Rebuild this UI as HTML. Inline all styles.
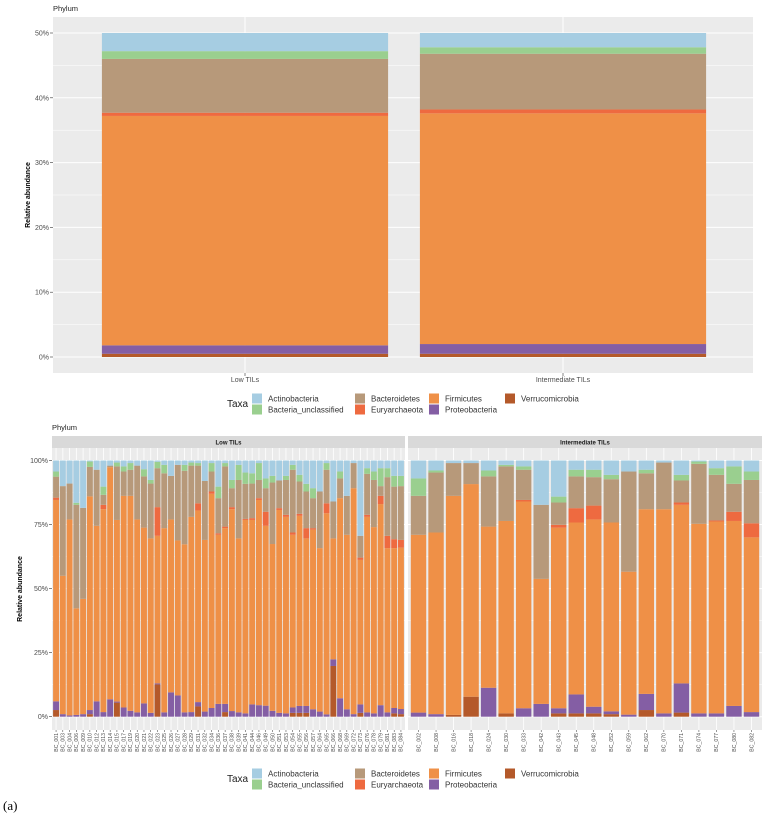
<!DOCTYPE html>
<html><head><meta charset="utf-8"><style>
body{margin:0;background:#fff}
svg text{font-family:"Liberation Sans",sans-serif}
</style></head><body>
<svg id="fig" width="770" height="819" viewBox="0 0 770 819" xmlns="http://www.w3.org/2000/svg">
<g id="top"></g>
<g id="bot"></g>
<text x="3" y="810" font-family="Liberation Serif, serif" font-size="13" style="font-family:'Liberation Serif',serif">(a)</text>
</svg>
<script>
const taxa = ["Verrucomicrobia","Proteobacteria","Firmicutes","Euryarchaeota","Bacteroidetes","Bacteria_unclassified","Actinobacteria"];
const colors = ["#b4592a","#845ea4","#ef9047","#ee6a40","#b7997a","#9acf8f","#a6cde2"];
// top chart cumulative tops (percent) per taxon for each group
const groups = ["Low TILs","Intermediate TILs"];
const groupTops = [[0.5,1.8,37.2,37.7,46,47.2,50],[0.5,2.0,37.6,38.2,46.8,47.8,50]];
const topTicks = [0,10,20,30,40,50];

const lowIds = ["001","003","004","006","009","010","012","013","014","015","017","019","020","021","022","023","025","026","027","028","029","031","032","034","036","037","038","039","041","044","046","049","050","051","053","054","055","056","057","064","065","066","068","069","072","073","076","078","079","081","083","084"];
const lowVerr = [2.6,0,0,0,0,1,0,0,0,5.5,0,0,0,0,0,12.6,0,0,0,0,0,4,0,0,0,1.8,0,0,0,0,0,0,0,0,0,1.5,1.5,1.5,0,0,0,19.8,0,0,0,1.5,0,0,0,0,1.3,1];
const lowProt = [6,1,0.5,0.7,1,2.6,6,1.8,6.8,5.9,3.6,2.3,1.7,5.2,1.5,13,1.7,9.5,8.3,1.7,1.8,5.7,2,3.4,5,5,2.2,1.7,1.3,4.8,4.5,4.3,2.3,1.5,1.3,3.6,4.2,4.2,2.9,2,0.9,22.4,7.2,2.9,1,4.8,1.7,1.3,4.5,1.7,3.4,3];
const lowFirm = [84.6,55,77,42.3,46,86,74.5,81,97.4,76.8,86.2,86.2,77,73.8,69.6,70.6,73.6,77,68.8,67.3,78,80.5,69,87,71,73.6,81,69.6,76.8,76.8,84.6,74.5,67.4,80.7,78,71,78.4,69.6,73,65.8,79.4,69.6,85.3,71,89.2,61.2,78,74,83,65.8,65.8,66];
const lowEury = [85.5,55,77,42.3,46,86,74.5,82.7,97.4,76.8,86.2,86.2,77,73.8,69.6,81.8,73.6,77,68.8,67.3,78,83.3,69,87.9,71.6,74.2,81.8,69.6,77.2,77.5,85.3,80,67.4,81.4,78.8,71.9,79.2,73.6,73.6,65.8,83.3,69.6,85.3,71,89.2,62.1,78.8,74,86.2,70.6,69.3,69];
const lowBact = [93.7,90,91,82.7,81.5,97.5,96.4,86.6,98,97.7,95.7,96.4,98,93.8,91,97,95,94,98.3,96,98,98,92,95.7,85.3,97.7,89.2,92.4,90.9,91,92.4,89.2,91.4,92.2,92.4,96.4,91.8,87.9,85.3,87.9,96.4,84,93,86.2,99,70.6,94.8,92.4,90,93.5,89.8,90];
const lowUncl = [95.7,90,91,83.5,81.5,99.6,96.4,89.8,98,99.2,97.7,99,98,96.6,92.4,99.5,98.3,94,98.3,98.3,99.2,99,92,99,89.8,99,92.4,98.3,95.3,95,99,93,94,92.2,94,98.3,94.4,90.9,89.2,87.9,99,84,95.7,86.2,99,70.6,97,95.7,97,97,94,94];

const intIds = ["002","008","016","018","024","030","033","042","043","045","048","052","059","062","070","071","074","077","080","082"];
const intVerr = [0,0,0.7,7.8,0,1.3,0,0,1.3,1.3,1.3,1,0,2.6,0,1.6,0,0,0,0];
const intProt = [1.6,1,0.7,7.8,11.3,1.3,3.3,5,3.3,8.7,3.9,2.1,0.8,8.9,1.3,13,1.3,1.3,4.2,1.8];
const intFirm = [71,71.9,86.2,90.8,74.2,76.4,84,53.8,73.8,75.8,77,75.8,56.6,81,81,82.7,75.3,76.2,76.4,70];
const intEury = [71,71.9,86.2,90.8,74.2,76.4,84.6,53.8,74.9,81.4,82.4,75.8,56.6,81,81,83.6,75.3,76.6,80,75.5];
const intBact = [86.2,95.3,99,99,93.8,97.7,96.4,82.7,83.6,93.8,93.5,92.7,95.7,95,99.2,92.2,98.7,94.4,90.9,92.4];
const intUncl = [93,96.1,99,99,96.1,98.3,97.7,82.7,85.9,96.4,96.4,94.4,95.7,96.4,99.2,94.4,99.6,97,97.7,95.7];
const botTicks = [0,25,50,75,100];

const NS="http://www.w3.org/2000/svg";
function mk(parent,tag,attrs,txt){const e=document.createElementNS(NS,tag);for(const k in attrs)e.setAttribute(k,attrs[k]);if(txt!==undefined)e.textContent=txt;parent.appendChild(e);return e;}

// ---------- TOP CHART ----------
const T=document.getElementById('top');
const tp={x0:53,x1:753,y0:17,y1:373};
const yT=v=>357-v*6.48;
const bandT=318, xT=i=>245+i*bandT;
let e=mk(T,'rect',{x:tp.x0,y:tp.y0,width:tp.x1-tp.x0,height:tp.y1-tp.y0,fill:'#ebebeb'});

for(let v=5;v<=55;v+=10){const y=yT(v);if(y>tp.y0)mk(T,'line',{x1:tp.x0,x2:tp.x1,y1:y,y2:y,stroke:'#fff','stroke-width':0.5});}
topTicks.forEach(v=>{const y=yT(v);mk(T,'line',{x1:tp.x0,x2:tp.x1,y1:y,y2:y,stroke:'#fff','stroke-width':1});
 mk(T,'line',{x1:tp.x0-3,x2:tp.x0,y1:y,y2:y,stroke:'#333','stroke-width':0.6});
 e=mk(T,'text',{x:tp.x0-4,y:y+2.5,'font-size':7,'text-anchor':'end',fill:'#4d4d4d'},v+'%');
 });
groups.forEach((g,i)=>{const cx=xT(i);mk(T,'line',{x1:cx,x2:cx,y1:tp.y0,y2:tp.y1,stroke:'#fff','stroke-width':1});
 mk(T,'line',{x1:cx,x2:cx,y1:tp.y1,y2:tp.y1+3,stroke:'#333','stroke-width':0.6});
 e=mk(T,'text',{x:cx,y:382,'font-size':7,'text-anchor':'middle',fill:'#4d4d4d'},g);
 });
groups.forEach((g,i)=>{const w=bandT*0.9,x=xT(i)-w/2;let prev=0;
 groupTops[i].forEach((top,k)=>{if(top>prev){e=mk(T,'rect',{x:x,y:yT(top),width:w,height:yT(prev)-yT(top),fill:colors[k]});
  }prev=top;});});
e=mk(T,'text',{x:53,y:11,'font-size':7.5,fill:'#222'},'Phylum');

e=mk(T,'text',{x:0,y:0,'font-size':7,'font-weight':'bold','text-anchor':'middle',transform:'translate(30,195) rotate(-90)'},'Relative abundance');


// ---------- LEGEND helper ----------
function legend(parent,y0){
 let t=mk(parent,'text',{x:227,y:y0+9,'font-size':10,fill:'#222'},'Taxa');
 
 const items=[[6,252,0],[5,252,1],[4,355,0],[3,355,1],[2,429,0],[1,429,1],[0,505,0]];
 items.forEach(([k,x,r])=>{const y=y0+r*11;
  const g=mk(parent,'g',{});
  
  mk(g,'rect',{x:x,y:y-4.5,width:10,height:10,fill:colors[k]});
  mk(g,'text',{x:x+16,y:y+3.5,'font-size':8,fill:'#333'},taxa[k]);});
}
legend(T,398);

// ---------- BOTTOM CHART ----------
const B=document.getElementById('bot');
const yB=v=>716.7-v*2.562;
const pY0=448,pY1=730;
function panel(x0,x1,ids,arrs,label,name){
 const g=mk(B,'g',{});
 
 mk(g,'rect',{x:x0,y:pY0,width:x1-x0,height:pY1-pY0,fill:'#ebebeb'});
 const s=mk(g,'rect',{x:x0,y:436,width:x1-x0,height:12,fill:'#d9d9d9'});
 
 const st=mk(g,'text',{x:(x0+x1)/2,y:444.5,'font-size':6,'font-weight':'bold','text-anchor':'middle',fill:'#1a1a1a'},label);
 
 for(let v=12.5;v<100;v+=25){const y=yB(v);mk(g,'line',{x1:x0,x2:x1,y1:y,y2:y,stroke:'#fff','stroke-width':0.5});}
 botTicks.forEach(v=>{const y=yB(v);mk(g,'line',{x1:x0,x2:x1,y1:y,y2:y,stroke:'#fff','stroke-width':1});});
 const n=ids.length,band=(x1-x0)/(n+0.2),xc=i=>x0+band*(0.6+i),w=band*0.88;
 ids.forEach((id,i)=>{const cx=xc(i);
  mk(g,'line',{x1:cx,x2:cx,y1:pY0,y2:pY1,stroke:'#fff','stroke-width':0.8});
  let prev=0;const tops=arrs.map(a=>a[i]).concat([100]);
  tops.forEach((top,k)=>{if(top>prev){const r=mk(g,'rect',{x:cx-w/2,y:yB(top),width:w,height:yB(prev)-yB(top),fill:colors[k]});
   }prev=top;});
  mk(g,'line',{x1:cx,x2:cx,y1:pY1,y2:pY1+2,stroke:'#333','stroke-width':0.5});
  const t=mk(g,'text',{x:0,y:0,'font-size':5.2,'text-anchor':'end',fill:'#4d4d4d',transform:`translate(${cx+1.8},${pY1+3}) rotate(-90)`},'BC_'+id);
  });
}
panel(52,405,lowIds,[lowVerr,lowProt,lowFirm,lowEury,lowBact,lowUncl],'Low TILs','low-tils-panel');
panel(408,762,intIds,[intVerr,intProt,intFirm,intEury,intBact,intUncl],'Intermediate TILs','intermediate-tils-panel');
botTicks.forEach(v=>{const y=yB(v);mk(B,'line',{x1:49,x2:52,y1:y,y2:y,stroke:'#333','stroke-width':0.6});
 e=mk(B,'text',{x:48,y:y+2.5,'font-size':7,'text-anchor':'end',fill:'#4d4d4d'},v+'%');
 });
e=mk(B,'text',{x:52,y:430,'font-size':7.5,fill:'#222'},'Phylum');

e=mk(B,'text',{x:0,y:0,'font-size':7,'font-weight':'bold','text-anchor':'middle',transform:'translate(22,589) rotate(-90)'},'Relative abundance');

legend(B,773);
</script>
</body></html>
